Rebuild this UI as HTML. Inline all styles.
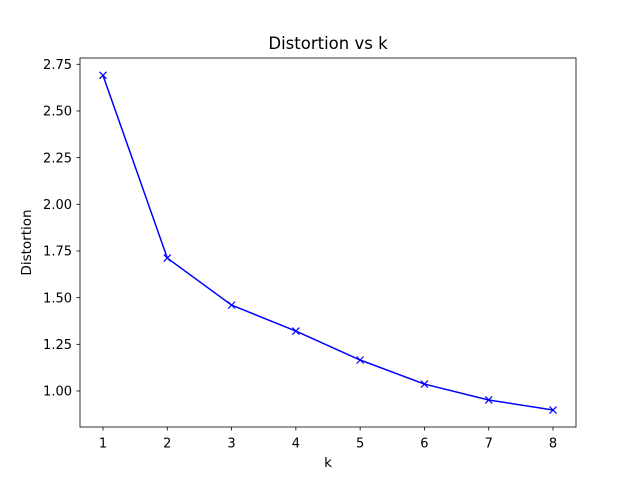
<!DOCTYPE html>
<html><head><meta charset="utf-8"><style>
body{margin:0;background:#fff}
svg text{font-family:"DejaVu Sans","Liberation Sans",sans-serif;fill:#000}
</style></head><body>
<svg id="chart" width="640" height="480" viewBox="0 0 640 480">
<rect width="640" height="480" fill="#fff"/>
<text x="328" y="49" font-size="16.5" text-anchor="middle">Distortion vs k</text>
<text x="328" y="467" font-size="13.5" text-anchor="middle">k</text>
<text transform="translate(31,242.5) rotate(-90)" font-size="13.5" text-anchor="middle">Distortion</text>
<g id="ticks"></g>
<g id="series"></g>
<rect x="80" y="58" width="496" height="369" fill="none" stroke="#000" stroke-width="0.8"/>
</svg>
<script>
const categories = [1,2,3,4,5,6,7,8];
const distortion = [2.691,1.712,1.460,1.321,1.166,1.037,0.952,0.898];
const xTickLabels = ["1","2","3","4","5","6","7","8"];
const yTicks = [1.00,1.25,1.50,1.75,2.00,2.25,2.50,2.75];
const yTickLabels = ["1.00","1.25","1.50","1.75","2.00","2.25","2.50","2.75"];

const NS="http://www.w3.org/2000/svg";
function xs(v){return 103+(v-1)*(553-103)/7;}
function ys(v){return 391-(v-1)*(391-64.3)/1.75;}
function mk(t,a){const e=document.createElementNS(NS,t);for(const k in a)e.setAttribute(k,a[k]);return e;}
const tg=document.getElementById('ticks'), sg=document.getElementById('series');
categories.forEach((c,i)=>{
  const x=xs(c);
  const l=mk('line',{x1:x,x2:x,y1:427,y2:430.5,stroke:'#000','stroke-width':0.8});
  
  
  tg.appendChild(l);
  const t=mk('text',{x:x,y:447.5,'font-size':13,'text-anchor':'middle'});
  t.textContent=xTickLabels[i];
  
  
  tg.appendChild(t);
});
yTicks.forEach((v,i)=>{
  const y=ys(v);
  const l=mk('line',{x1:76.5,x2:80,y1:y,y2:y,stroke:'#000','stroke-width':0.8});
  
  
  tg.appendChild(l);
  const t=mk('text',{x:72,y:y+4.7,'font-size':13,'text-anchor':'end'});
  t.textContent=yTickLabels[i];
  
  
  tg.appendChild(t);
});
const pts=categories.map((c,i)=>xs(c)+','+ys(distortion[i])).join(' ');
const pl=mk('polyline',{points:pts,fill:'none',stroke:'#0000ff','stroke-width':1.5});


sg.appendChild(pl);
categories.forEach((c,i)=>{
  const x=xs(c),y=ys(distortion[i]),s=3.5;
  const p=mk('path',{d:`M${x-s},${y-s}L${x+s},${y+s}M${x-s},${y+s}L${x+s},${y-s}`,stroke:'#0000ff','stroke-width':1.2,fill:'none'});
  
  
  sg.appendChild(p);
});
</script>
</body></html>
